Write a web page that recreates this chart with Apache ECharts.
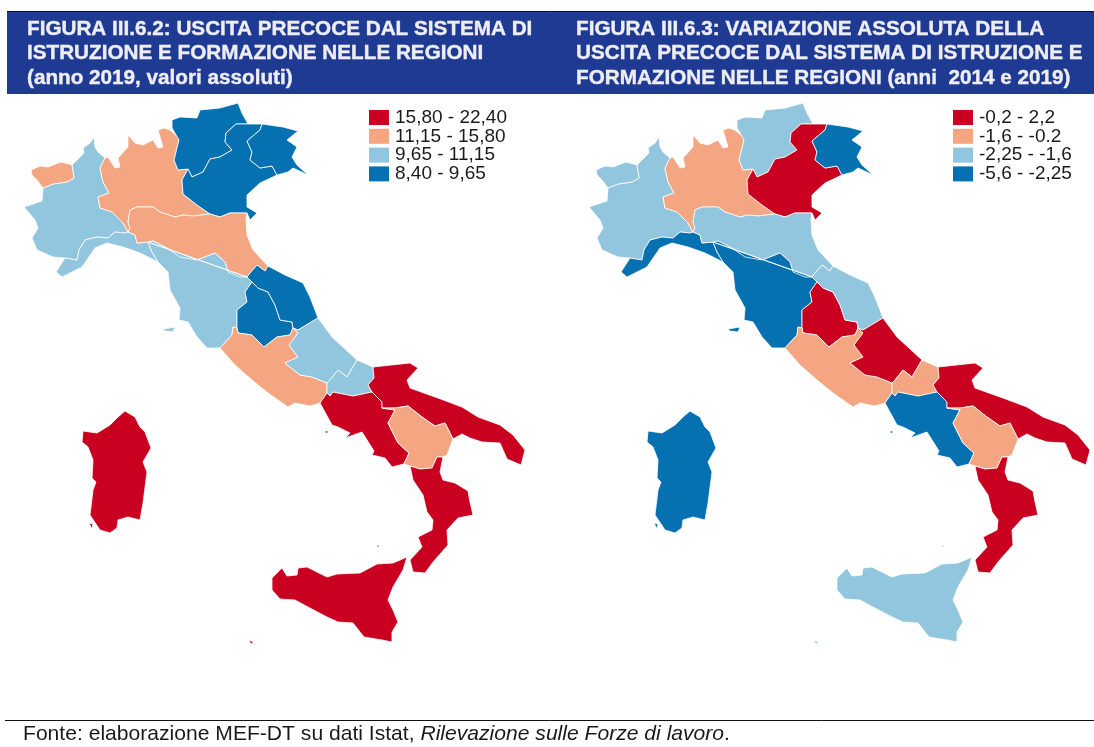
<!DOCTYPE html>
<html>
<head>
<meta charset="utf-8">
<title>Uscita precoce</title>
<script src="https://cdn.jsdelivr.net/npm/echarts@6/dist/echarts.min.js"></script>
<style>
html, body { margin: 0; padding: 0; background: #fff; }
#main { width: 1094px; height: 747px; }
</style>
</head>
<body>
<div id="main"></div>
<script>
// valori (stima dentro la classe di colore)
var regioni = ['Piemonte', "Valle d'Aosta", 'Lombardia', 'Trentino-Alto Adige', 'Veneto', 'Friuli-Venezia Giulia', 'Liguria', 'Emilia-Romagna', 'Toscana', 'Umbria', 'Marche', 'Lazio', 'Abruzzo', 'Molise', 'Campania', 'Puglia', 'Basilicata', 'Calabria', 'Sicilia', 'Sardegna'];
var valori2019 = [10.8, 12.5, 11.5, 9.3, 9.6, 8.4, 10.9, 11.3, 10.4, 9.4, 9.0, 11.8, 10.3, 10.0, 17.3, 17.9, 11.8, 19.0, 22.4, 17.8];
var variazione = [-1.9, -1.7, -1.2, -1.8, 0.5, -2.5, -3.5, -2.0, -3.2, 1.2, -2.2, -0.8, 2.2, -1.0, -2.6, 0.3, -0.6, 0.4, -2.1, -5.6];

var classi2019 = [
    { min: 15.8, max: 22.4, label: '15,80 - 22,40', color: '#ca0020' },
    { min: 11.15, max: 15.8, label: '11,15 - 15,80', color: '#f4a582' },
    { min: 9.65, max: 11.15, label: '9,65 - 11,15', color: '#92c5de' },
    { min: 8.4, max: 9.65, label: '8,40 - 9,65', color: '#0571b0' }
];
var classiVar = [
    { min: -0.2, max: 2.2, label: '-0,2 - 2,2', color: '#ca0020' },
    { min: -1.6, max: -0.2, label: '-1,6 - -0.2', color: '#f4a582' },
    { min: -2.25, max: -1.6, label: '-2,25 - -1,6', color: '#92c5de' },
    { min: -5.6, max: -2.25, label: '-5,6 - -2,25', color: '#0571b0' }
];

var titolo1 = 'FIGURA III.6.2: USCITA PRECOCE DAL SISTEMA DI\nISTRUZIONE E FORMAZIONE NELLE REGIONI\n(anno 2019, valori assoluti)';
var titolo2 = 'FIGURA III.6.3: VARIAZIONE ASSOLUTA DELLA\nUSCITA PRECOCE DAL SISTEMA DI ISTRUZIONE E\nFORMAZIONE NELLE REGIONI (anni  2014 e 2019)';

// confini delle regioni: ogni tratto comune e' scritto una volta sola
var tratti = {
    vda_n: [[43,188],[37,180],[32,175],[31,170],[40,166],[48,167],[61,162],[72,165]],
    vda_pie: [[72,165],[74,178],[67,182],[53,184],[43,188]],
    pie_n: [[72,165],[75,162],[84,153],[83,148],[90,143],[94,137],[95,147],[98,152],[105,158]],
    pie_lom: [[105,158],[100,168],[103,182],[109,193],[98,197],[100,208],[112,212],[123,223],[128,232]],
    pie_lig: [[128,232],[125,233],[115,232],[108,238],[97,237],[85,240],[79,250],[77,260],[65,258]],
    pie_sw: [[65,258],[53,257],[37,250],[32,238],[38,228],[35,220],[24,207],[42,201],[43,188]],
    lom_n: [[105,158],[108,157],[115,168],[120,167],[118,158],[128,147],[128,135],[135,143],[143,145],[153,140],[158,148],[163,147],[158,130],[164,128],[170,130],[178,137],[179,140]],
    lom_taa: [[179,140],[174,160],[178,170],[188,169]],
    lom_ven: [[188,169],[182,180],[183,194],[197,205],[210,214]],
    lom_emi: [[210,214],[193,216],[183,215],[175,217],[160,212],[153,207],[137,207],[130,210],[128,222],[130,228],[128,232]],
    taa_n: [[179,140],[172,128],[172,120],[180,117],[197,118],[200,110],[220,108],[238,103],[242,113],[248,124]],
    taa_ven: [[248,124],[236,124],[226,133],[225,142],[232,150],[220,157],[210,159],[203,172],[192,177],[188,169]],
    ven_n: [[248,124],[262,124]],
    ven_fvg: [[262,124],[260,130],[247,141],[252,152],[250,160],[260,168],[272,166],[277,175]],
    ven_coast: [[277,175],[260,183],[247,195],[247,207],[257,213],[250,220],[247,213]],
    ven_emi: [[247,213],[230,213],[220,217],[210,214]],
    fvg_n: [[262,124],[283,127],[298,131],[287,140],[297,147],[292,157],[297,165],[308,175],[293,168],[288,172],[277,175]],
    emi_coast: [[247,213],[246,220],[247,235],[253,250],[268,266]],
    emi_mar: [[268,266],[265,271],[257,265],[250,273],[247,277]],
    emi_tos: [[247,277],[240,277],[228,272],[225,262],[215,253],[205,257],[197,260],[180,257],[167,248],[153,241],[148,242]],
    emi_lig: [[148,242],[137,243],[135,235],[128,232]],
    lig_coast: [[65,258],[56,272],[62,277],[82,267],[95,248],[107,243],[123,247],[140,253],[158,262]],
    lig_tos: [[158,262],[152,252],[148,242]],
    tos_coast: [[158,262],[168,272],[170,290],[180,308],[179,320],[188,322],[197,337],[207,348],[220,348]],
    tos_laz: [[220,348],[232,335],[233,327],[237,328]],
    tos_umb: [[237,328],[237,310],[247,302],[245,292],[252,282]],
    mar_tos: [[252,282],[247,277]],
    umb_laz: [[237,328],[238,333],[252,335],[264,347],[277,337],[290,335],[293,328]],
    umb_mar: [[293,328],[292,322],[280,320],[275,305],[268,292],[258,288],[252,282]],
    mar_coast: [[268,266],[285,275],[303,283],[310,297],[318,318]],
    mar_abr: [[318,318],[298,330],[293,328]],
    laz_abr: [[293,328],[298,333],[289,345],[298,357],[285,363],[300,375],[312,377],[327,383]],
    laz_mol: [[327,383],[327,393]],
    laz_cam: [[327,393],[320,403]],
    laz_coast: [[320,403],[310,406],[295,403],[288,407],[268,393],[252,380],[235,365],[220,348]],
    abr_coast: [[318,318],[332,337],[357,360]],
    abr_mol: [[357,360],[347,377],[338,370],[330,380],[327,383]],
    mol_coast: [[357,360],[373,367]],
    mol_pug: [[373,367],[374,378],[368,385],[372,392]],
    mol_cam: [[372,392],[353,396],[333,392],[330,396],[327,393]],
    pug_coast: [[373,367],[410,363],[418,368],[407,380],[410,388],[438,398],[462,407],[478,417],[500,425],[513,435],[525,450],[521,465],[507,459],[500,443],[482,442],[470,438],[462,434],[453,439]],
    pug_bas: [[453,439],[445,423],[435,426],[422,417],[408,406],[395,408],[382,408]],
    pug_cam: [[382,408],[382,402],[372,392]],
    cam_bas: [[382,408],[395,410],[388,423],[398,443],[409,453],[404,464]],
    cam_coast: [[404,464],[392,467],[385,458],[372,455],[374,451],[362,432],[345,438],[350,433],[338,427],[332,425],[320,403]],
    bas_coast: [[453,439],[447,455],[443,457]],
    bas_cal: [[443,457],[437,457],[432,468],[420,469],[410,466]],
    bas_link: [[410,466],[404,464]],
    cal_coast: [[443,457],[440,472],[443,480],[455,483],[468,491],[470,502],[473,515],[458,518],[447,530],[448,545],[433,562],[425,573],[413,572],[410,560],[422,547],[418,537],[432,530],[433,520],[427,512],[423,495],[413,480],[410,466]]
};

// '-' davanti al nome = tratto percorso al contrario
var anelli = {
    'Piemonte': ['pie_n', 'pie_lom', 'pie_lig', 'pie_sw', '-vda_pie'],
    "Valle d'Aosta": ['vda_n', 'vda_pie'],
    'Lombardia': ['lom_n', 'lom_taa', 'lom_ven', 'lom_emi', '-pie_lom'],
    'Trentino-Alto Adige': ['taa_n', 'taa_ven', '-lom_taa'],
    'Veneto': ['ven_n', 'ven_fvg', 'ven_coast', 'ven_emi', '-lom_ven', '-taa_ven'],
    'Friuli-Venezia Giulia': ['fvg_n', '-ven_fvg'],
    'Liguria': ['lig_coast', 'lig_tos', 'emi_lig', 'pie_lig'],
    'Emilia-Romagna': ['-lom_emi', '-ven_emi', 'emi_coast', 'emi_mar', 'emi_tos', 'emi_lig'],
    'Toscana': ['tos_coast', 'tos_laz', 'tos_umb', 'mar_tos', '-emi_tos', '-lig_tos'],
    'Umbria': ['umb_laz', 'umb_mar', '-tos_umb'],
    'Marche': ['mar_coast', 'mar_abr', 'umb_mar', 'mar_tos', '-emi_mar'],
    'Lazio': ['laz_abr', 'laz_mol', 'laz_cam', 'laz_coast', 'tos_laz', 'umb_laz'],
    'Abruzzo': ['abr_coast', 'abr_mol', '-laz_abr', '-mar_abr'],
    'Molise': ['mol_coast', 'mol_pug', 'mol_cam', '-laz_mol', '-abr_mol'],
    'Campania': ['-pug_cam', 'cam_bas', 'cam_coast', '-laz_cam', '-mol_cam'],
    'Puglia': ['pug_coast', 'pug_bas', 'pug_cam', '-mol_pug'],
    'Basilicata': ['-pug_bas', 'bas_coast', 'bas_cal', 'bas_link', '-cam_bas'],
    'Calabria': ['cal_coast', '-bas_cal']
};

// isole
var isole = {
    'Sicilia': [
        [[407,557],[393,563],[377,564],[360,573],[337,574],[327,577],[317,572],[307,567],[298,568],[297,575],[287,576],[282,568],[272,578],[272,590],[280,599],[295,600],[308,607],[327,617],[338,622],[353,623],[364,637],[382,640],[392,642],[392,632],[398,622],[393,610],[388,600],[393,587],[403,570]],
        [[249,640],[253,642],[253,644],[250,643]],
        [[377,545],[379,545],[379,547],[377,547]]
    ],
    'Sardegna': [
        [[125,411],[135,417],[140,427],[145,432],[151,448],[143,462],[147,472],[143,503],[140,520],[128,517],[118,520],[117,528],[110,533],[100,530],[90,515],[93,490],[96,482],[92,478],[93,460],[88,447],[82,442],[83,431],[97,433],[110,425],[118,417]],
        [[89,523],[93,524],[92,529]]
    ],
    'Toscana': [[[163,329],[175,327],[173,332],[165,331]]],
    'Campania': [[[325,431],[328,431],[328,433],[325,433]]]
};

function creaGeoJson() {
    var features = regioni.map(function (nome) {
        var poligoni = [];
        if (anelli[nome]) {
            var anello = [];
            anelli[nome].forEach(function (t) {
                var pts = t.charAt(0) === '-' ? tratti[t.slice(1)].slice().reverse() : tratti[t];
                anello = anello.concat(pts);
            });
            poligoni.push(anello);
        }
        (isole[nome] || []).forEach(function (p) { poligoni.push(p); });
        return {
            type: 'Feature',
            properties: { name: nome },
            geometry: {
                type: 'MultiPolygon',
                coordinates: poligoni.map(function (p) {
                    var chiuso = p.concat([p[0]]);
                    return [chiuso.map(function (c) { return [c[0], -c[1]]; })];
                })
            }
        };
    });
    return { type: 'FeatureCollection', features: features };
}

echarts.registerMap('italia1', creaGeoJson());
echarts.registerMap('italia2', creaGeoJson());

function datiSerie(valori) {
    return regioni.map(function (nome, i) {
        return { name: nome, value: valori[i] };
    });
}

function serieMappa(nomeMappa, valori, left) {
    return {
        type: 'map',
        map: nomeMappa,
        left: left,
        top: 0,
        width: 560,
        height: 700,
        aspectScale: 1,
        boundingCoords: [[0, 0], [560, -700]],
        roam: false,
        silent: true,
        selectedMode: false,
        label: { show: false },
        itemStyle: { borderColor: '#fff', borderWidth: 0.8, areaColor: '#92c5de' },
        emphasis: { disabled: true },
        data: datiSerie(valori)
    };
}

function legenda(classi, indice, left) {
    return {
        type: 'piecewise',
        seriesIndex: indice,
        left: left,
        top: 108,
        padding: 0,
        orient: 'vertical',
        align: 'left',
        itemWidth: 20,
        itemHeight: 15,
        itemGap: -0.2,
        textGap: 6,
        itemSymbol: 'rect',
        selectedMode: false,
        hoverLink: false,
        pieces: classi,
        textStyle: { fontFamily: 'Liberation Sans', fontSize: 19, color: '#1a1a1a' }
    };
}

var stileTitolo = {
    fontFamily: 'Liberation Sans', fontWeight: 'bold', fontSize: 20.7, lineHeight: 24.5, color: '#eeeef2',
    textBorderColor: '#eeeef2', textBorderWidth: 0.4
};

var chart = echarts.init(document.getElementById('main'), null, { renderer: 'canvas' });
chart.setOption({
    backgroundColor: '#fff',
    animation: false,
    title: [
        { text: titolo1, left: 27, top: 17, padding: 0, textStyle: stileTitolo },
        { text: titolo2, left: 576, top: 17, padding: 0, textStyle: stileTitolo },
        {
            text: 'Fonte: elaborazione MEF-DT su dati Istat, {i|Rilevazione sulle Forze di lavoro}.',
            left: 23, top: 724, padding: 0,
            textStyle: {
                fontFamily: 'Liberation Sans', fontWeight: 'normal', fontSize: 21.1, color: '#1a1a1a',
                rich: { i: { fontFamily: 'Liberation Sans', fontStyle: 'italic', fontSize: 21.1, color: '#1a1a1a' } }
            }
        }
    ],
    graphic: [
        { type: 'rect', z: -1, shape: { x: 7, y: 12, width: 1087, height: 82 }, style: { fill: '#1f3a93' } },
        { type: 'line', z: -1, shape: { x1: 7, y1: 11.5, x2: 1094, y2: 11.5 }, style: { stroke: '#111', lineWidth: 1 } },
        { type: 'line', z: -1, shape: { x1: 5, y1: 720.5, x2: 1094, y2: 720.5 }, style: { stroke: '#111', lineWidth: 1 } }
    ],
    visualMap: [legenda(classi2019, 0, 369), legenda(classiVar, 1, 953)],
    series: [serieMappa('italia1', valori2019, 0), serieMappa('italia2', variazione, 565)]
});
</script>
</body>
</html>
